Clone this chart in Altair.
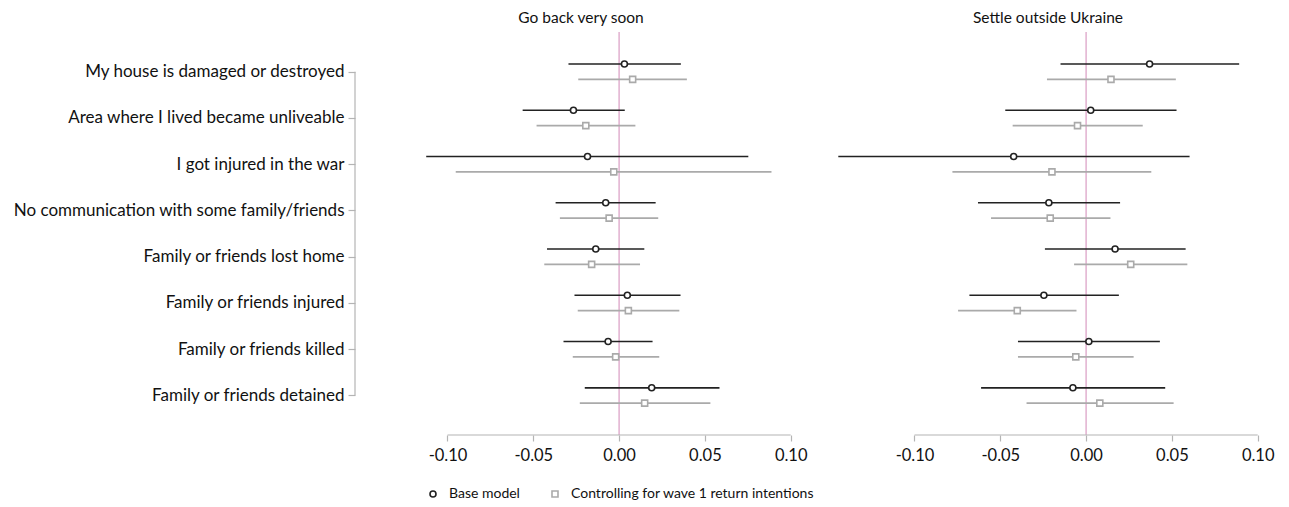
import altair as alt
import pandas as pd

categories = [
    "My house is damaged or destroyed",
    "Area where I lived became unliveable",
    "I got injured in the war",
    "No communication with some family/friends",
    "Family or friends lost home",
    "Family or friends injured",
    "Family or friends killed",
    "Family or friends detained",
]
panels = ["Go back very soon", "Settle outside Ukraine"]
models = ["Base model", "Controlling for wave 1 return intentions"]
x_ticks = [-0.10, -0.05, 0.00, 0.05, 0.10]

# Go back very soon
soon_base_est = [0.0031, -0.0266, -0.0184, -0.0078, -0.0136, 0.0048, -0.0064, 0.0190]
soon_base_lo = [-0.0295, -0.0562, -0.1124, -0.0370, -0.0420, -0.0260, -0.0324, -0.0200]
soon_base_hi = [0.0360, 0.0033, 0.0753, 0.0213, 0.0147, 0.0358, 0.0195, 0.0585]
soon_ctrl_est = [0.0079, -0.0194, -0.0031, -0.0058, -0.0160, 0.0054, -0.0020, 0.0149]
soon_ctrl_lo = [-0.0238, -0.0481, -0.0952, -0.0345, -0.0436, -0.0241, -0.0270, -0.0229]
soon_ctrl_hi = [0.0395, 0.0095, 0.0888, 0.0228, 0.0122, 0.0351, 0.0234, 0.0532]

# Settle outside Ukraine
settle_base_est = [0.0370, 0.0027, -0.0422, -0.0217, 0.0169, -0.0246, 0.0016, -0.0077]
settle_base_lo = [-0.0149, -0.0471, -0.1444, -0.0630, -0.0240, -0.0680, -0.0397, -0.0612]
settle_base_hi = [0.0892, 0.0527, 0.0603, 0.0198, 0.0580, 0.0191, 0.0430, 0.0461]
settle_ctrl_est = [0.0145, -0.0050, -0.0199, -0.0209, 0.0260, -0.0401, -0.0060, 0.0080]
settle_ctrl_lo = [-0.0228, -0.0428, -0.0779, -0.0554, -0.0070, -0.0746, -0.0397, -0.0347]
settle_ctrl_hi = [0.0523, 0.0330, 0.0380, 0.0142, 0.0590, -0.0056, 0.0277, 0.0510]

series = {
    (panels[0], models[0]): (soon_base_est, soon_base_lo, soon_base_hi),
    (panels[0], models[1]): (soon_ctrl_est, soon_ctrl_lo, soon_ctrl_hi),
    (panels[1], models[0]): (settle_base_est, settle_base_lo, settle_base_hi),
    (panels[1], models[1]): (settle_ctrl_est, settle_ctrl_lo, settle_ctrl_hi),
}
rows = []
for (p, m), (est, lo, hi) in series.items():
    for i, c in enumerate(categories):
        rows.append({"panel": p, "model": m, "cat": c, "row": i + 1,
                     "est": est[i], "lo": lo[i], "hi": hi[i]})
df = pd.DataFrame(rows)

W, H = 452, 403
FONT = "Lato"
AXIS_GRAY = "#b4b4b4"
PINK = "#dca4c8"
BLACK = "#222222"
GRAY = "#aaaaaa"

xsc = alt.Scale(domain=[-0.1539, 0.1095], nice=False, zero=False)
ysc = alt.Scale(domain=[0.142, 8.855], reverse=True, nice=False, zero=False)

cat_js = "[" + ",".join("'" + c.replace("'", "\\'") + "'" for c in categories) + "]"

x_axis = alt.Axis(values=x_ticks, domain=False, grid=False, tickColor=AXIS_GRAY,
                  tickSize=6, tickWidth=1.2, labelFontSize=16.5, labelPadding=6,
                  labelColor="#111111", title=None, labelFont=FONT,
                  labelExpr="datum.value < 0 ? '-' + format(-datum.value, '.2f') : format(datum.value, '.2f')")

legend = alt.Legend(title=None, orient="none", legendX=71, legendY=455, direction="horizontal",
                    labelFontSize=14, labelFont=FONT, labelColor="#111111", symbolSize=36,
                    symbolStrokeWidth=1.6, labelOffset=9, columnPadding=28, labelLimit=0)


def one_row(d):
    return alt.Chart(d).transform_filter("datum.row == 1 && datum.model == 'Base model'")


def panel(name, show_y):
    d = df[df.panel == name]
    if show_y:
        y_axis = alt.Axis(values=list(range(1, len(categories) + 1)), domain=False, grid=False,
                          tickColor=AXIS_GRAY, tickSize=7, tickWidth=1.2, labelFontSize=17,
                          labelPadding=4, labelColor="#111111", title=None, labelFont=FONT,
                          minExtent=343, maxExtent=343, labelLimit=0,
                          labelExpr=cat_js + "[datum.value - 1]")
    else:
        y_axis = None
    base = alt.Chart(d).transform_calculate(
        pos="datum.row + (datum.model == 'Base model' ? -0.166 : 0.166)"
    )
    zero = one_row(d).transform_calculate(z="0").mark_rule(
        color=PINK, strokeWidth=1.3
    ).encode(x=alt.X("z:Q", scale=xsc, axis=x_axis))
    xline = one_row(d).mark_rule(color=AXIS_GRAY, strokeWidth=1.2).encode(
        x=alt.datum(x_ticks[0]), x2=alt.datum(x_ticks[-1]), y=alt.value(H))
    ci = base.transform_calculate(
        linecol=f"datum.model == 'Base model' ? '{BLACK}' : '{GRAY}'"
    ).mark_rule(strokeWidth=1.7).encode(
        x=alt.X("lo:Q", scale=xsc, axis=x_axis),
        x2="hi:Q",
        y=alt.Y("pos:Q", scale=ysc, axis=y_axis),
        stroke=alt.Stroke("linecol:N", scale=None),
    )
    pts = base.mark_point(filled=False, fill="white", fillOpacity=1, strokeWidth=1.6, size=36, opacity=1).encode(
        x=alt.X("est:Q", scale=xsc, axis=x_axis),
        y=alt.Y("pos:Q", scale=ysc, axis=y_axis),
        color=alt.Color("model:N", scale=alt.Scale(domain=models, range=[BLACK, GRAY]), legend=legend),
        shape=alt.Shape("model:N", scale=alt.Scale(domain=models, range=["circle", "square"]), legend=legend),
    )
    layers = [zero, xline, ci, pts]
    if show_y:
        yline = one_row(d).mark_rule(color=AXIS_GRAY, strokeWidth=1.2).encode(
            x=alt.value(0), y=alt.datum(1), y2=alt.datum(len(categories)))
        layers = [zero, xline, yline, ci, pts]
    return alt.layer(*layers).properties(
        width=W, height=H,
        title=alt.TitleParams(name, fontSize=15.5, fontWeight="normal", font=FONT, color="#111111",
                              frame="group", anchor="middle", offset=5),
    )


chart = alt.hconcat(panel(panels[0], True), panel(panels[1], False), spacing=15).properties(
    padding={"left": 12, "top": 10, "right": 5, "bottom": 5}
).configure(font=FONT, background="white").configure_view(stroke=None)

chart.save("out.html", embed_options={"renderer": "svg", "actions": False})
